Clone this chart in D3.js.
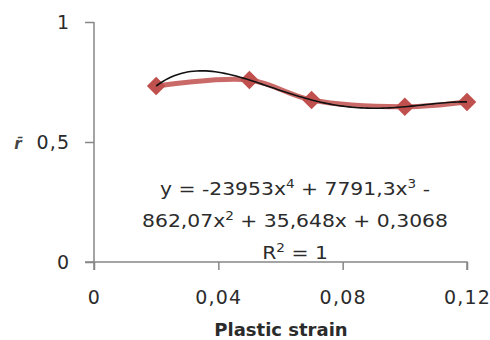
<!DOCTYPE html>
<html><head><meta charset="utf-8">
<script src="https://cdn.jsdelivr.net/npm/d3@7"></script>
<style>body{margin:0;background:#fff}svg{display:block}</style>
</head><body>
<script>
const strain = [0.02, 0.05, 0.07, 0.10, 0.12];
const rbar = [0.733, 0.758, 0.675, 0.647, 0.667];
const xTicks = [0, 0.04, 0.08, 0.12];
const yTicks = [0, 0.5, 1];
// trendline coefficients (highest power first), as printed on the chart
const coef = [-23953, 7791.3, -862.07, 35.648, 0.3068];
const eqLines = [
  [["y = -23953x"], ["4", 1], [" + 7791,3x"], ["3", 1], [" -"]],
  [["862,07x"], ["2", 1], [" + 35,648x + 0,3068"]],
  [["R"], ["2", 1], [" = 1"]]
];

const W = 490, H = 340;
const svg = d3.select("body").append("svg").attr("width", W).attr("height", H);
const x = d3.scaleLinear().domain([0, 0.12]).range([94, 467]);
const y = d3.scaleLinear().domain([0, 1]).range([262, 22]);
const fmt = d => d === 0 ? "0" : d3.format(".2~f")(d).replace(".", ",");
const fmtY = d => String(d).replace(".", ",");
const font = "'DejaVu Sans', Verdana, sans-serif";
const axisCol = "#868686", textCol = "#2b2b2b";

const gy = svg.append("g").attr("transform", `translate(${x(0)},0)`)
  .call(d3.axisLeft(y).tickValues(yTicks).tickSize(9).tickPadding(16).tickFormat(fmtY));
const gx = svg.append("g").attr("transform", `translate(0,${y(0)})`)
  .call(d3.axisBottom(x).tickValues(xTicks).tickSize(8).tickPadding(21).tickFormat(fmt));
[gx, gy].forEach(g => {
  g.select(".domain").attr("stroke", axisCol).attr("stroke-width", 1.5);
  g.selectAll(".tick line").attr("stroke", axisCol).attr("stroke-width", 1.5);
  g.selectAll(".tick text").attr("fill", textCol).attr("font-family", font).attr("font-size", 19)
    .attr("letter-spacing", 1.2);
});
gy.selectAll(".tick text").attr("dx", 1.2);
gy.select(".domain").attr("d", `M-0,${y(1)}H0V${y(0) + 8}`);
gx.select(".domain").attr("d", `M${x(0) - 9},0H${x(0.12)}V8`);

const pts = strain.map((s, i) => [s, rbar[i]]);
const line = d3.line().x(d => x(d[0])).y(d => y(d[1])).curve(d3.curveCatmullRom.alpha(0.5));
svg.append("path").attr("d", line(pts)).attr("fill", "none")
  .attr("stroke", "#c0504d").attr("stroke-opacity", 0.85).attr("stroke-width", 5).attr("stroke-linejoin", "round");
svg.selectAll("path.m").data(pts).enter().append("path").attr("class", "m")
  .attr("d", d3.symbol().type(d3.symbolDiamond2).size(220))
  .attr("transform", d => `translate(${x(d[0])},${y(d[1])})`)
  .attr("fill", "#c0504d");

const poly = t => coef.reduce((a, c) => a * t + c, 0);
const tl = d3.range(strain[0], strain[strain.length - 1] + 1e-9, 0.001).map(t => [t, poly(t)]);
svg.append("path").attr("d", d3.line().x(d => x(d[0])).y(d => y(d[1]))(tl))
  .attr("fill", "none").attr("stroke", "#111").attr("stroke-width", 1.6);

const eq = svg.append("g").attr("font-family", font).attr("font-size", 18).attr("fill", textCol)
  .attr("text-anchor", "middle");
[195, 227, 259].forEach((by, i) => {
  const t = eq.append("text").attr("transform", `translate(295,${by}) scale(1.13,1)`);
  eqLines[i].forEach(([s, sup]) => {
    const ts = t.append("tspan").text(s);
    if (sup) ts.attr("font-size", 12).attr("baseline-shift", "super");
  });
});

svg.append("text").attr("x", 281).attr("y", 336).attr("text-anchor", "middle")
  .attr("font-family", font).attr("font-weight", "bold").attr("font-size", 18).attr("fill", textCol)
  .text("Plastic strain");
svg.append("text").attr("x", 18).attr("y", 149).attr("text-anchor", "middle")
  .attr("font-family", font).attr("font-style", "italic").attr("font-weight", "bold").attr("font-size", 15).attr("fill", "#444")
  .text("r\u0304");
</script>
</body></html>
